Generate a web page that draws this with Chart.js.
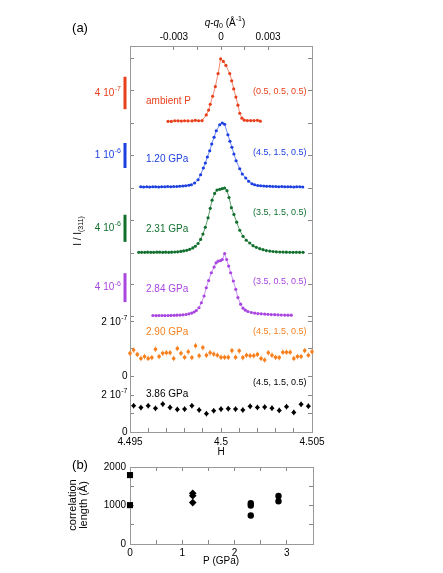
<!DOCTYPE html>
<html>
<head>
<meta charset="utf-8">
<script src="https://cdn.jsdelivr.net/npm/chart.js@4.4.1/dist/chart.umd.min.js"></script>
<style>
  body { margin: 0; background: #fff; }
  #wrap { position: relative; width: 443px; height: 573px; }
  canvas { position: absolute; left: 0; top: 0; }
</style>
</head>
<body>
<div id="wrap">
  <canvas id="chartA" width="443" height="573"></canvas>
  <canvas id="chartB" width="443" height="573"></canvas>
</div>
<script>
const FONT = '"Liberation Sans", Arial, sans-serif';

// ---- panel (a): H scans, intensity I / I(311) in units of 1e-7 ----
const redH = [4.49709, 4.49727, 4.49746, 4.49764, 4.49782, 4.49800, 4.49819, 4.49841, 4.49859, 4.49877,
  4.49896, 4.49919, 4.49932, 4.49941, 4.49954, 4.49969, 4.49984, 4.49998, 4.50013, 4.50027,
  4.50048, 4.50059, 4.50070, 4.50082, 4.50093, 4.50103, 4.50115, 4.50128, 4.50145, 4.50163,
  4.50181, 4.50200, 4.50216];
const redI = [0.21, 0.20, 0.28, 0.27, 0.24, 0.28, 0.25, 0.25, 0.33, 0.28,
  0.29, 1.0, 1.6, 2.3, 3.3, 4.5, 6.1, 7.9, 7.6, 7.1,
  6.1, 5.2, 4.2, 3.2, 2.2, 1.2, 0.6, 0.35, 0.3, 0.3,
  0.3, 0.33, 0.22];

const blueH = [4.49559, 4.49575, 4.49592, 4.49608, 4.49625, 4.49641, 4.49658, 4.49674, 4.49691, 4.49707,
  4.49724, 4.49740, 4.49757, 4.49773, 4.49790, 4.49806, 4.49823, 4.49837, 4.49855, 4.49874,
  4.49888, 4.49903, 4.49914, 4.49925, 4.49938, 4.49949, 4.49962, 4.49974, 4.49993, 4.50007,
  4.50020, 4.50038, 4.50049, 4.50060, 4.50071, 4.50083, 4.50103, 4.50117, 4.50136, 4.50152,
  4.50170, 4.50185, 4.50202, 4.50218, 4.50235, 4.50251, 4.50268, 4.50284, 4.50301, 4.50317,
  4.50334, 4.50350, 4.50367, 4.50383, 4.50400, 4.50416, 4.50433, 4.50449];
const blueI = [0.5, 0.4, 0.5, 0.4, 0.5, 0.5, 0.4, 0.5, 0.5, 0.6,
  0.5, 0.6, 0.6, 0.7, 0.8, 0.9, 1.1, 1.3, 2.0, 3.3,
  5.3, 8.0, 10.0, 12.4, 14.9, 17.6, 20.3, 22.9, 25.3, 26.0,
  25.5, 21.3, 18.7, 16.3, 13.6, 10.9, 7.7, 5.6, 4.0, 2.7,
  1.7, 1.3, 1.0, 0.9, 0.8, 0.7, 0.7, 0.6, 0.6, 0.5,
  0.6, 0.5, 0.5, 0.5, 0.4, 0.5, 0.5, 0.4];

const greenH = [4.49548, 4.49564, 4.49581, 4.49597, 4.49614, 4.49630, 4.49647, 4.49663, 4.49680, 4.49696,
  4.49713, 4.49729, 4.49746, 4.49762, 4.49779, 4.49795, 4.49812, 4.49828, 4.49845, 4.49859,
  4.49874, 4.49888, 4.49901, 4.49914, 4.49929, 4.49941, 4.49951, 4.49965, 4.49978, 4.49993,
  4.50007, 4.50020, 4.50033, 4.50044, 4.50057, 4.50071, 4.50086, 4.50103, 4.50121, 4.50139,
  4.50158, 4.50176, 4.50194, 4.50213, 4.50231, 4.50249, 4.50268, 4.50286, 4.50304, 4.50323,
  4.50341, 4.50359, 4.50378, 4.50396, 4.50414, 4.50432, 4.50451];
const greenI = [1.0, 1.0, 1.0, 1.2, 1.0, 1.0, 1.2, 1.2, 1.0, 1.2,
  1.0, 1.2, 1.5, 1.8, 2.3, 3.0, 4.0, 5.5, 7.5, 10,
  14, 20, 28, 38, 52, 66, 78, 88, 93, 94,
  95, 96, 92, 82, 67, 57, 45.5, 33.6, 24.7, 18.8,
  14.8, 10.8, 8.4, 6.4, 4.9, 3.6, 2.8, 2.2, 1.8, 1.5,
  1.3, 1.2, 1.1, 1.0, 1.1, 1.0, 1.0];

const purpleH = [4.49626, 4.49643, 4.49659, 4.49676, 4.49692, 4.49709, 4.49725, 4.49742, 4.49758, 4.49775,
  4.49791, 4.49808, 4.49824, 4.49839, 4.49852, 4.49864, 4.49879, 4.49892, 4.49907, 4.49919,
  4.49932, 4.49947, 4.49962, 4.49973, 4.49984, 4.49998, 4.50007, 4.50020, 4.50031, 4.50042,
  4.50053, 4.50068, 4.50081, 4.50093, 4.50108, 4.50121, 4.50134, 4.50148, 4.50167, 4.50185,
  4.50203, 4.50221, 4.50240, 4.50258, 4.50276, 4.50295, 4.50313, 4.50331, 4.50350, 4.50368,
  4.50386];
const purpleI = [0.7, 0.6, 0.7, 0.7, 0.6, 0.7, 0.8, 0.9, 1.1, 1.3,
  1.6, 2.1, 3.0, 4.0, 5.5, 7.5, 11.4, 18.3, 27.6, 39,
  49, 59.7, 67.6, 73.4, 75.7, 76.6, 78, 86.2, 78, 68.9,
  59.7, 48.3, 36.8, 25.5, 16.3, 10.8, 8.0, 6.2, 4.8, 4.0,
  3.4, 3.0, 2.6, 2.3, 2.0, 1.8, 1.6, 1.4, 1.3, 1.2,
  1.2];

const orangeH = [4.4950, 4.4952, 4.4954, 4.4956, 4.4958, 4.4960, 4.4962, 4.4964, 4.4966, 4.4968,
  4.4970, 4.4972, 4.4974, 4.4976, 4.4978, 4.4980, 4.4982, 4.4984, 4.4986, 4.4988,
  4.4990, 4.4992, 4.4994, 4.4996, 4.4998, 4.5000, 4.5002, 4.5004, 4.5006, 4.5008,
  4.5010, 4.5012, 4.5014, 4.5016, 4.5018, 4.5020, 4.5022, 4.5024, 4.5026, 4.5028,
  4.5030, 4.5032, 4.5034, 4.5036, 4.5038, 4.5040, 4.5042, 4.5044, 4.5046, 4.5048,
  4.5050];
const orangeI = [0.84, 0.96, 0.80, 0.65, 0.72, 0.65, 0.68, 0.99, 0.72, 0.84,
  0.86, 0.86, 0.65, 1.02, 0.84, 0.69, 0.90, 0.68, 1.12, 0.75,
  1.05, 0.77, 0.86, 0.81, 0.77, 0.69, 0.69, 0.69, 0.94, 0.69,
  0.93, 0.68, 0.77, 0.75, 0.75, 0.80, 0.65, 0.59, 0.86, 0.77,
  0.69, 0.68, 0.88, 0.88, 0.88, 0.65, 0.72, 0.72, 0.94, 0.77,
  0.90];
const orangeErr = 0.1;

const blackH = [4.4952, 4.4956, 4.4960, 4.4964, 4.4968, 4.4972, 4.4976, 4.4980, 4.4984, 4.4988,
  4.4992, 4.4996, 4.5000, 4.5004, 4.5008, 4.5012, 4.5016, 4.5020, 4.5024, 4.5028,
  4.5032, 4.5036, 4.5040, 4.5044, 4.5048];
const blackI = [1.42, 1.32, 1.42, 1.28, 1.51, 1.33, 1.22, 1.24, 1.42, 1.19,
  0.99, 1.15, 1.24, 1.26, 1.24, 1.19, 1.39, 1.33, 1.35, 1.29,
  1.17, 1.37, 1.06, 1.50, 1.40];
const blackErr = 0.15;

const pressureLabels = ['ambient P', '1.20 GPa', '2.31 GPa', '2.84 GPa', '2.90 GPa', '3.86 GPa'];
const hklLabels = ['(0.5, 0.5, 0.5)', '(4.5, 1.5, 0.5)', '(3.5, 1.5, 0.5)', '(3.5, 0.5, 0.5)', '(4.5, 1.5, 0.5)', '(4.5, 1.5, 0.5)'];
const scaleBars = [4, 10, 40, 40];          // bar length, 1e-7 units
const scaleBarText = [['4 10', '-7'], ['1 10', '-6'], ['4 10', '-6'], ['4 10', '-6']];
const panelMax = [9.5, 26, 96, 87, 2.22, 3.03];
const panelTicks = [[0, 4, 8], [0, 13, 26], [0, 48, 96], [0, 43.5, 87], [0, 1, 2], [0, 1, 2]];
const qMin = -0.0058, qMax = 0.0058;

// ---- panel (b): correlation length vs pressure ----
const squareP = [0, 0];
const squareL = [1790, 1010];
const diamondP = [1.2, 1.2, 1.2];
const diamondL = [1315, 1255, 1075];
const circleP = [2.31, 2.31, 2.31, 2.84, 2.84];
const circleL = [1060, 1000, 740, 1245, 1110];

// styling / layout
const colors = ['#e8401c', '#1c3fe0', '#12702e', '#a946e0', '#f7801e', '#000000'];
const lineColors = ['#f08a70', '#7088f0', '#5f9c6f', '#c890f0'];
const panelPx = [77, 65, 65, 63, 60, 56];
const barMid = [0.61, 0.5, 0.62, 0.55];
const pressY = [101, 159, 229, 289, 332, 394];
const hklY = [92, 153, 213, 282, 332, 383];
const AXIS_BOX = 20;   // reserved room for tick labels

Chart.defaults.font.family = FONT;

function pts(xs, ys) {
  return xs.map((x, i) => ({ x: x, y: ys[i] }));
}

// base text with a raised small piece, right aligned at xRight
function supText(ctx, base, sup, xRight, y, size, color) {
  ctx.fillStyle = color;
  ctx.textBaseline = 'middle';
  ctx.textAlign = 'left';
  ctx.font = size + 'px ' + FONT;
  const wb = ctx.measureText(base).width;
  ctx.font = (size * 0.7) + 'px ' + FONT;
  const ws = ctx.measureText(sup).width;
  const x0 = xRight - wb - ws - 0.5;
  ctx.font = size + 'px ' + FONT;
  ctx.fillText(base, x0, y);
  ctx.font = (size * 0.7) + 'px ' + FONT;
  ctx.fillText(sup, x0 + wb + 0.5, y - size * 0.4);
}

// pieces: [text, size, dy, italic], centred on cx
function drawPieces(ctx, pieces, cx, y) {
  ctx.textBaseline = 'middle';
  ctx.textAlign = 'left';
  let total = 0;
  pieces.forEach(p => {
    ctx.font = (p[3] ? 'italic ' : '') + p[1] + 'px ' + FONT;
    total += ctx.measureText(p[0]).width;
  });
  let x = cx - total / 2;
  pieces.forEach(p => {
    ctx.font = (p[3] ? 'italic ' : '') + p[1] + 'px ' + FONT;
    ctx.fillText(p[0], x, y + p[2]);
    x += ctx.measureText(p[0]).width;
  });
}

const series = [[redH, redI], [blueH, blueI], [greenH, greenI], [purpleH, purpleI], [orangeH, orangeI], [blackH, blackI]];

const datasetsA = series.map((s, i) => ({
  data: pts(s[0], s[1]),
  yAxisID: 'y' + i,
  showLine: i < 4,
  borderColor: i < 4 ? lineColors[i] : colors[i],
  borderWidth: 1,
  pointStyle: i === 5 ? 'rectRot' : 'circle',
  pointRadius: i === 5 ? 2.6 : (i === 4 ? 1.8 : 1.6),
  pointBackgroundColor: colors[i],
  pointBorderWidth: 0,
  clip: false
}));

const tickGrid = { drawOnChartArea: false, tickLength: -4, color: '#888' };
const tickFont = { family: FONT, size: 10 };

const scalesA = {
  x: {
    type: 'linear', position: 'bottom', min: 4.495, max: 4.505,
    afterFit: s => { s.height = AXIS_BOX; },
    ticks: {
      stepSize: 0.001, padding: 8, font: tickFont, color: '#000', autoSkip: false, maxRotation: 0,
      callback: v => { const k = Math.round(v * 1000); return k % 5 === 0 ? String(k / 1000) : ''; }
    },
    grid: tickGrid, border: { color: '#999' }
  },
  q: {
    type: 'linear', axis: 'x', position: 'top', min: qMin, max: qMax,
    afterFit: s => { s.height = AXIS_BOX; },
    ticks: {
      stepSize: 0.0015, padding: 7, font: tickFont, color: '#000', autoSkip: false, maxRotation: 0,
      callback: v => {
        const k = Math.round(v / 0.0015);
        return (k % 2 === 0 && Math.abs(v) < 0.004) ? String(Math.round(v * 1000) / 1000) : '';
      }
    },
    grid: tickGrid, border: { color: '#999' }
  }
};

panelMax.forEach((mx, i) => {
  const common = {
    type: 'linear', axis: 'y', min: 0, max: mx,
    stackWeight: panelPx[i],
    afterFit: s => { s.width = 0; },
    afterBuildTicks: s => { s.ticks = panelTicks[i].map(v => ({ value: v })); },
    ticks: { display: false },
    grid: tickGrid, border: { color: '#999' }
  };
  scalesA['y' + i] = Object.assign({}, common, { position: 'left', stack: 'L', weight: 10 - i });
  scalesA['r' + i] = Object.assign({}, common, { position: 'right', stack: 'R', weight: i });
});

const annotateA = {
  id: 'annotateA',
  afterDatasetsDraw(chart) {
    const ctx = chart.ctx;
    ctx.save();
    [[4, orangeErr], [5, blackErr]].forEach(([i, err]) => {
      const s = chart.scales['y' + i];
      const d = chart.data.datasets[i].data;
      ctx.strokeStyle = colors[i];
      ctx.lineWidth = 0.8;
      chart.getDatasetMeta(i).data.forEach((p, j) => {
        ctx.beginPath();
        ctx.moveTo(p.x, s.getPixelForValue(d[j].y - err));
        ctx.lineTo(p.x, s.getPixelForValue(d[j].y + err));
        ctx.stroke();
      });
    });
    ctx.restore();
  },
  afterDraw(chart) {
    const ctx = chart.ctx;
    ctx.save();
    // scale bars with their magnitudes
    scaleBars.forEach((len, i) => {
      const s = chart.scales['y' + i];
      const mid = s.top + barMid[i] * s.height;
      const half = (s.getPixelForValue(0) - s.getPixelForValue(len)) / 2;
      ctx.fillStyle = colors[i];
      ctx.fillRect(123.5, mid - half, 3, 2 * half);
      supText(ctx, scaleBarText[i][0], scaleBarText[i][1], 121, mid, 10, colors[i]);
    });
    // axis labels of the two bottom panels
    [4, 5].forEach(i => {
      const s = chart.scales['y' + i];
      supText(ctx, '2 10', '-7', 127.5, s.getPixelForValue(2), 10, '#000');
      ctx.font = '10px ' + FONT;
      ctx.textAlign = 'right';
      ctx.fillText('0', 127.5, s.getPixelForValue(0));
    });
    // pressures and reflections
    pressureLabels.forEach((t, i) => {
      ctx.fillStyle = colors[i];
      ctx.font = '10px ' + FONT;
      ctx.textAlign = 'left';
      ctx.textBaseline = 'middle';
      ctx.fillText(t, 146, pressY[i]);
      ctx.font = '9px ' + FONT;
      ctx.textAlign = 'right';
      ctx.fillText(hklLabels[i], 306.5, hklY[i]);
    });
    ctx.fillStyle = '#000';
    ctx.font = '13px ' + FONT;
    ctx.textAlign = 'center';
    ctx.fillText('(a)', 80, 28);
    ctx.font = '10px ' + FONT;
    ctx.fillText('H', 221, 452);
    // top axis title  q-q0 (Å-1)
    drawPieces(ctx, [['q', 10, 0, true], ['-', 10, 0], ['q', 10, 0, true], ['0', 7, 3], [' (\u00c5', 10, 0], ['-1', 7, -4], [')', 10, 0]], 225, 23);
    // left axis title  I / I(311)
    ctx.translate(78, 231);
    ctx.rotate(-Math.PI / 2);
    drawPieces(ctx, [['I / I', 10, 0], ['(311)', 7, 3]], 0, 0);
    ctx.restore();
  }
};

new Chart(document.getElementById('chartA'), {
  type: 'scatter',
  data: { datasets: datasetsA },
  options: {
    responsive: false,
    animation: false,
    layout: { padding: { left: 130, right: 131, top: 46 - AXIS_BOX, bottom: 141 - AXIS_BOX } },
    plugins: { legend: { display: false }, tooltip: { enabled: false } },
    scales: scalesA
  },
  plugins: [annotateA]
});

// ---- panel (b) ----
const annotateB = {
  id: 'annotateB',
  afterDraw(chart) {
    const ctx = chart.ctx;
    ctx.save();
    ctx.fillStyle = '#000';
    ctx.textAlign = 'center';
    ctx.textBaseline = 'middle';
    ctx.font = '13px ' + FONT;
    ctx.fillText('(b)', 80, 465);
    ctx.font = '10px ' + FONT;
    ctx.fillText('P (GPa)', 221, 561);
    ctx.translate(78, 505);
    ctx.rotate(-Math.PI / 2);
    ctx.font = '11px ' + FONT;
    ctx.fillText('correlation', 0, -5);
    ctx.fillText('length (\u00c5)', 0, 6);
    ctx.restore();
  }
};

const markerB = { showLine: false, pointBackgroundColor: '#000', pointBorderWidth: 0, clip: false };
const Y_BOX = 40;

new Chart(document.getElementById('chartB'), {
  type: 'scatter',
  data: {
    datasets: [
      Object.assign({ data: pts(squareP, squareL), pointStyle: 'rect', pointRadius: 4.3 }, markerB),
      Object.assign({ data: pts(diamondP, diamondL), pointStyle: 'rectRot', pointRadius: 3.8 }, markerB),
      Object.assign({ data: pts(circleP, circleL), pointStyle: 'circle', pointRadius: 3.2 }, markerB)
    ]
  },
  options: {
    responsive: false,
    animation: false,
    layout: { padding: { left: 130 - Y_BOX, right: 130, top: 467, bottom: 29 - 18 } },
    plugins: { legend: { display: false }, tooltip: { enabled: false } },
    scales: {
      x: {
        type: 'linear', position: 'bottom', min: 0, max: 3.5,
        afterFit: s => { s.height = 18; },
        ticks: { stepSize: 0.5, padding: 7, font: tickFont, color: '#000', autoSkip: false, maxRotation: 0,
          callback: v => Number.isInteger(v) ? String(v) : '' },
        grid: tickGrid, border: { color: '#999' }
      },
      y: {
        type: 'linear', position: 'left', min: 0, max: 2000,
        afterFit: s => { s.width = Y_BOX; },
        ticks: { stepSize: 500, padding: 8, font: tickFont, color: '#000', autoSkip: false,
          callback: v => v % 1000 === 0 ? String(v) : '' },
        grid: tickGrid, border: { color: '#999' }
      },
      x2: {
        type: 'linear', axis: 'x', position: 'top', min: 0, max: 3.5,
        afterFit: s => { s.height = 0; },
        ticks: { stepSize: 0.5, display: false },
        grid: tickGrid, border: { color: '#999' }
      },
      y2: {
        type: 'linear', axis: 'y', position: 'right', min: 0, max: 2000,
        afterFit: s => { s.width = 0; },
        ticks: { stepSize: 500, display: false },
        grid: tickGrid, border: { color: '#999' }
      }
    }
  },
  plugins: [annotateB]
});
</script>
</body>
</html>
